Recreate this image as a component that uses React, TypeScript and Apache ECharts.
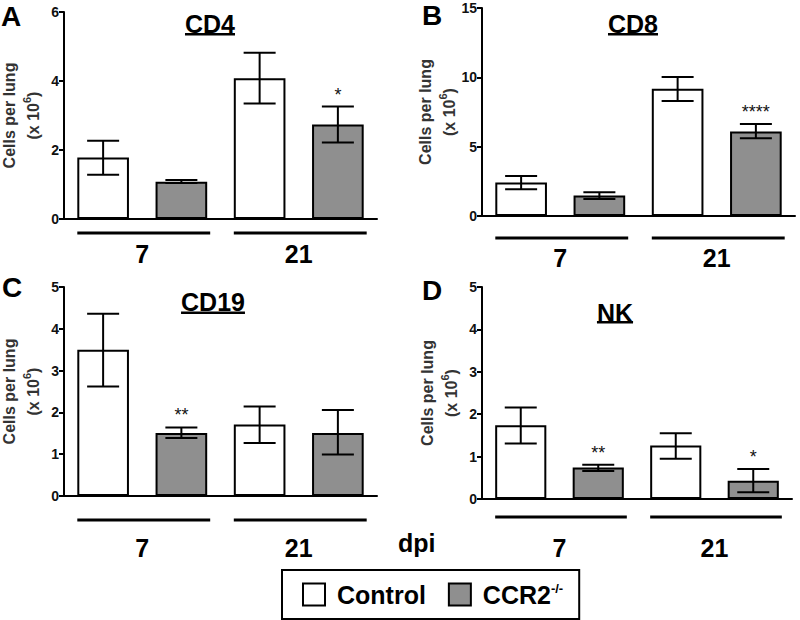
import React, { useEffect, useRef } from "react";
import * as echarts from "echarts";

const FONT = "'Liberation Sans', Arial, sans-serif";

// ---- data ----
const categories = ["7 Control", "7 CCR2", "21 Control", "21 CCR2"];
const groupLabels = ["7", "21"];
const panelTitles = ["CD4", "CD8", "CD19", "NK"];
const panelLetters = ["A", "B", "C", "D"];
const yMax = [6, 15, 5, 5];
const yInterval = [2, 5, 1, 1];

const cd4Mean = [1.78, 1.08, 4.08, 2.74];
const cd4Low = [1.28, 1.04, 3.35, 2.22];
const cd4High = [2.27, 1.13, 4.82, 3.26];
const cd4Sig = ["", "", "", "*"];

const cd8Mean = [2.41, 1.47, 9.17, 6.09];
const cd8Low = [1.93, 1.22, 8.3, 5.6];
const cd8High = [2.89, 1.71, 10.02, 6.64];
const cd8Sig = ["", "", "", "****"];

const cd19Mean = [3.5, 1.51, 1.71, 1.51];
const cd19Low = [2.62, 1.39, 1.27, 0.99];
const cd19High = [4.36, 1.64, 2.14, 2.06];
const cd19Sig = ["", "**", "", ""];

const nkMean = [1.74, 0.74, 1.26, 0.43];
const nkLow = [1.31, 0.66, 0.95, 0.16];
const nkHigh = [2.16, 0.81, 1.55, 0.71];
const nkSig = ["", "**", "", "*"];

const means = [cd4Mean, cd8Mean, cd19Mean, nkMean];
const lows = [cd4Low, cd8Low, cd19Low, nkLow];
const highs = [cd4High, cd8High, cd19High, nkHigh];
const sigs = [cd4Sig, cd8Sig, cd19Sig, nkSig];

// ---- layout ----
const grids = [
  { left: 62, top: 12, width: 315, height: 207 },
  { left: 482, top: 8, width: 313, height: 208 },
  { left: 61, top: 287, width: 316, height: 209 },
  { left: 482, top: 287, width: 310, height: 212 },
];
const groupLineOffset = [14, 22, 24, 18];
const groupLabelOffset = [35, 42, 52, 49];
const titlePos = [
  { x: 210, y: 23.5, u: 33 },
  { x: 633, y: 23.5, u: 33 },
  { x: 213, y: 301.5, u: 311.5 },
  { x: 615, y: 312.5, u: 321 },
];
const letterPos = [
  { x: 11, y: 16 },
  { x: 432, y: 15 },
  { x: 12, y: 287 },
  { x: 432, y: 290 },
];

function textWidth(text: string, font: string) {
  const c = document.createElement("canvas").getContext("2d");
  if (!c) return text.length * 14;
  c.font = font;
  return c.measureText(text).width;
}

export default function App() {
  const ref = useRef<HTMLDivElement>(null);
  useEffect(() => {
    if (!ref.current) return;
    const chart = echarts.init(ref.current, undefined, { renderer: "svg" });
    const BAR_FRAC = 0.66;

    const xAxis: any[] = [];
    const yAxis: any[] = [];
    const series: any[] = [];
    const graphic: any[] = [];

    grids.forEach((g, p) => {
      xAxis.push({
        type: "category",
        gridIndex: p,
        data: categories,
        axisLine: { lineStyle: { color: "#000", width: 2 } },
        axisTick: { alignWithLabel: true, length: 7, lineStyle: { color: "#000", width: 2 } },
        axisLabel: { show: false },
      });
      yAxis.push({
        type: "value",
        gridIndex: p,
        min: 0,
        max: yMax[p],
        interval: yInterval[p],
        name: "{a|Cells per lung}\n{a|(x 10}{s|6}{a|)}",
        nameLocation: "middle",
        nameRotate: 90,
        nameGap: 19,
        nameTextStyle: {
          rich: {
            a: { fontSize: 16, fontWeight: "bold", color: "#333", fontFamily: FONT, lineHeight: 24 },
            s: { fontSize: 11, fontWeight: "bold", color: "#333", fontFamily: FONT, verticalAlign: "top", lineHeight: 24 },
          },
        },
        axisLine: { show: true, lineStyle: { color: "#000", width: 2 } },
        axisTick: { show: true, length: 5, lineStyle: { color: "#000", width: 2 } },
        splitLine: { show: false },
        axisLabel: { fontSize: 14, fontWeight: "bold", color: "#111", fontFamily: FONT, margin: 5 },
      });
      const m = means[p];
      series.push({
        name: "Control",
        type: "bar",
        xAxisIndex: p,
        yAxisIndex: p,
        barWidth: BAR_FRAC * 100 + "%",
        barGap: "-100%",
        itemStyle: { color: "#ffffff", borderColor: "#000", borderWidth: 2 },
        data: m.map((v, i) => (i % 2 === 0 ? v : "-")),
      });
      series.push({
        name: "CCR2-/-",
        type: "bar",
        xAxisIndex: p,
        yAxisIndex: p,
        barWidth: BAR_FRAC * 100 + "%",
        barGap: "-100%",
        itemStyle: { color: "#8f8f8f", borderColor: "#000", borderWidth: 2 },
        data: m.map((v, i) => (i % 2 === 1 ? v : "-")),
      });
      const lo = lows[p];
      const hi = highs[p];
      const sg = sigs[p];
      series.push({
        type: "custom",
        xAxisIndex: p,
        yAxisIndex: p,
        z: 5,
        silent: true,
        encode: { x: 0, y: [1, 2] },
        data: m.map((_, i) => [i, lo[i], hi[i]]),
        renderItem: (params: any, api: any) => {
          const i = params.dataIndex;
          const top = api.coord([api.value(0), api.value(2)]);
          const bot = api.coord([api.value(0), api.value(1)]);
          const hw = 16;
          const st = { stroke: "#000", lineWidth: 2 };
          const children: any[] = [
            { type: "line", shape: { x1: top[0], y1: top[1], x2: bot[0], y2: bot[1] }, style: st },
            { type: "line", shape: { x1: top[0] - hw, y1: top[1], x2: top[0] + hw, y2: top[1] }, style: st },
            { type: "line", shape: { x1: bot[0] - hw, y1: bot[1], x2: bot[0] + hw, y2: bot[1] }, style: st },
          ];
          if (sg[i]) {
            children.push({
              type: "text",
              x: top[0],
              y: top[1] - 3,
              style: {
                text: sg[i],
                fontSize: 18,
                fontFamily: FONT,
                fill: "#111",
                align: "center",
                verticalAlign: "bottom",
              },
            });
          }
          return { type: "group", children };
        },
      });
      series.push({
        type: "custom",
        xAxisIndex: p,
        yAxisIndex: p,
        silent: true,
        encode: { x: [0, 1], y: 2 },
        data: [
          [0, 1, 0],
          [2, 3, 0],
        ],
        renderItem: (params: any, api: any) => {
          const i = params.dataIndex;
          const c0 = api.coord([api.value(0), api.value(2)]);
          const c1 = api.coord([api.value(1), api.value(2)]);
          const bw = (api.size([1, 0])[0] * BAR_FRAC) / 2;
          const y = c0[1] + groupLineOffset[p];
          return {
            type: "group",
            children: [
              {
                type: "line",
                shape: { x1: c0[0] - bw, y1: y, x2: c1[0] + bw + 3, y2: y },
                style: { stroke: "#000", lineWidth: 3 },
              },
              {
                type: "text",
                x: (c0[0] + c1[0]) / 2,
                y: c0[1] + groupLabelOffset[p],
                style: {
                  text: groupLabels[i],
                  fontSize: 25,
                  fontWeight: "bold",
                  fontFamily: FONT,
                  fill: "#000",
                  align: "center",
                  verticalAlign: "middle",
                },
              },
            ],
          };
        },
      });

      // title with underline
      const tp = titlePos[p];
      const tFont = `bold 25px ${FONT}`;
      const tw = textWidth(panelTitles[p], tFont);
      graphic.push({
        type: "group",
        children: [
          {
            type: "text",
            x: tp.x,
            y: tp.y,
            style: {
              text: panelTitles[p],
              fontSize: 25,
              fontWeight: "bold",
              fontFamily: FONT,
              fill: "#000",
              align: "center",
              verticalAlign: "middle",
            },
          },
          {
            type: "rect",
            shape: { x: tp.x - tw / 2, y: tp.u, width: tw, height: 2.5 },
            style: { fill: "#000" },
          },
        ],
      });
      const lp = letterPos[p];
      graphic.push({
        type: "text",
        x: lp.x,
        y: lp.y,
        style: {
          text: panelLetters[p],
          fontSize: 28,
          fontWeight: "bold",
          fontFamily: FONT,
          fill: "#000",
          align: "center",
          verticalAlign: "middle",
        },
      });
    });

    graphic.push({
      type: "text",
      x: 398,
      y: 543,
      style: {
        text: "dpi",
        fontSize: 25,
        fontWeight: "bold",
        fontFamily: FONT,
        fill: "#000",
        align: "left",
        verticalAlign: "middle",
      },
    });

    chart.setOption({
      animation: false,
      backgroundColor: "#fff",
      textStyle: { fontFamily: FONT },
      grid: grids.map((g) => ({ ...g, containLabel: false })),
      xAxis,
      yAxis,
      series,
      graphic,
      legend: {
        left: 282,
        top: 570,
        orient: "horizontal",
        padding: [12, 16, 12, 20],
        borderColor: "#000",
        borderWidth: 2,
        itemWidth: 22,
        itemHeight: 22,
        itemGap: 22,
        icon: "rect",
        selectedMode: false,
        data: [
          { name: "Control", itemStyle: { color: "#fff", borderColor: "#000", borderWidth: 2 } },
          { name: "CCR2-/-", itemStyle: { color: "#8f8f8f", borderColor: "#000", borderWidth: 2 } },
        ],
        formatter: (name: string) =>
          name === "CCR2-/-" ? "{b|CCR2}{s|-/-}" : "{b|Control}",
        textStyle: {
          rich: {
            b: { fontSize: 25, fontWeight: "bold", fontFamily: FONT, color: "#000", padding: [0, 0, 0, 7] },
            s: { fontSize: 13, fontWeight: "bold", fontFamily: FONT, color: "#000", verticalAlign: "top" },
          },
        },
      },
    });
    return () => chart.dispose();
  }, []);
  return (
    <div
      ref={ref}
      style={{ position: "fixed", left: 0, top: 0, width: 800, height: 620, background: "#fff" }}
    />
  );
}
